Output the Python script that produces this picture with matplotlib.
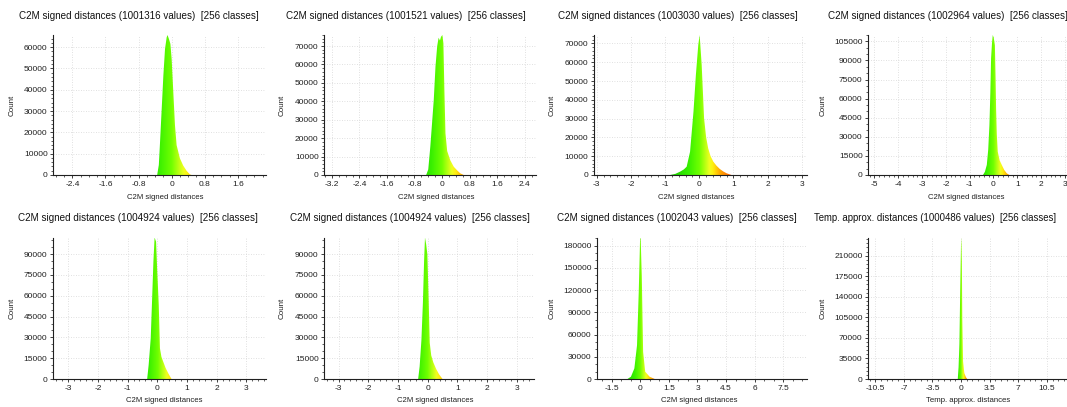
import numpy as np
import matplotlib.pyplot as plt
from matplotlib.colors import LinearSegmentedColormap, Normalize
from matplotlib.ticker import MultipleLocator, FuncFormatter
from matplotlib.patches import Polygon

plt.rcParams['font.family'] = ['Liberation Sans', 'DejaVu Sans']

W, H = 1067, 407

titles = [
    "C2M signed distances (1001316 values)  [256 classes]",
    "C2M signed distances (1001521 values)  [256 classes]",
    "C2M signed distances (1003030 values)  [256 classes]",
    "C2M signed distances (1002964 values)  [256 classes]",
    "C2M signed distances (1004924 values)  [256 classes]",
    "C2M signed distances (1004924 values)  [256 classes]",
    "C2M signed distances (1002043 values)  [256 classes]",
    "Temp. approx. distances (1000486 values)  [256 classes]",
]
xlabels = ["C2M signed distances"] * 7 + ["Temp. approx. distances"]

# histogram outlines (value, count)
x1 = [-0.35, -0.31, -0.28, -0.24, -0.20, -0.16, -0.12, -0.10, -0.065, -0.03, 0.0, 0.04, 0.08, 0.12, 0.20, 0.28, 0.36, 0.44, 0.48]
c1 = [0, 4700, 15600, 31100, 46700, 59200, 64600, 65700, 63800, 61500, 54500, 38900, 23400, 14000, 7800, 4400, 2000, 300, 0]

x2 = [-0.46, -0.40, -0.34, -0.29, -0.24, -0.19, -0.14, -0.10, -0.06, -0.03, 0.01, 0.04, 0.07, 0.10, 0.15, 0.24, 0.34, 0.44, 0.53, 0.63]
c2 = [0, 3000, 15400, 28000, 40700, 58800, 70000, 74500, 73000, 75000, 76000, 71500, 45000, 22600, 13000, 8000, 4500, 2500, 900, 0]

x3 = [-0.85, -0.70, -0.56, -0.45, -0.37, -0.27, -0.17, -0.10, -0.03, 0.01, 0.07, 0.14, 0.20, 0.26, 0.33, 0.41, 0.50, 0.60, 0.70, 0.80, 0.94]
c3 = [0, 600, 1800, 3000, 4400, 12400, 33700, 53200, 69200, 74500, 58500, 30100, 20000, 14200, 10000, 7100, 5000, 3200, 1900, 900, 0]

x4 = [-0.44, -0.36, -0.28, -0.22, -0.17, -0.13, -0.10, -0.06, -0.03, 0.01, 0.06, 0.09, 0.11, 0.14, 0.18, 0.26, 0.35, 0.45, 0.56, 0.67]
c4 = [0, 2500, 7900, 20000, 39300, 65000, 91700, 104000, 110000, 108000, 102000, 75000, 52400, 32000, 18300, 11500, 7900, 4000, 1300, 0]

x5 = [-0.34, -0.29, -0.22, -0.18, -0.13, -0.09, -0.04, 0.00, 0.05, 0.09, 0.14, 0.20, 0.28, 0.37, 0.48]
c5 = [0, 10100, 29300, 53300, 84500, 102000, 98900, 77300, 53300, 22100, 16000, 12500, 8000, 4100, 0]

x6 = [-0.32, -0.27, -0.21, -0.16, -0.12, -0.09, -0.05, -0.01, 0.03, 0.07, 0.12, 0.19, 0.28, 0.38, 0.50]
c6 = [0, 9000, 28000, 55000, 85000, 102000, 97000, 90000, 60000, 26000, 17000, 12000, 7500, 3500, 0]

x7 = [-0.68, -0.50, -0.32, -0.18, -0.09, -0.02, 0.01, 0.07, 0.14, 0.25, 0.48, 0.75]
c7 = [0, 3100, 14300, 45600, 117000, 188800, 191000, 139600, 36700, 9800, 3100, 0]

x8 = [-0.40, -0.30, -0.20, -0.10, 0.00, 0.04, 0.10, 0.16, 0.25, 0.40, 0.60, 0.75]
c8 = [0, 20000, 60000, 150000, 230000, 241000, 200000, 100000, 30000, 10000, 3000, 0]

xs = [x1, x2, x3, x4, x5, x6, x7, x8]
cs = [c1, c2, c3, c4, c5, c6, c7, c8]

xlims = [(-2.86, 2.28), (-3.42, 2.73), (-3.08, 3.15), (-5.26, 3.09),
         (-3.52, 3.66), (-3.48, 3.58), (-2.27, 8.76), (-11.35, 12.97)]
x_major = [0.8, 0.8, 1, 1, 1, 1, 1.5, 3.5]
x_minor = [0.2, 0.2, 0.2, 0.2, 0.2, 0.2, 0.5, 0.7]
y_major = [10000, 10000, 10000, 15000, 15000, 15000, 30000, 35000]
y_minor = [2000, 2000, 2000, 5000, 5000, 5000, 10000, 7000]

# axes boxes in pixels: left, right, top, bottom
boxes = [(53.3, 266, 35, 175), (324.3, 536, 35, 175), (594, 807, 35, 175), (868.3, 1067, 35, 175),
         (52.7, 266, 237.5, 379), (324.3, 534, 237.5, 379), (597.3, 807, 237.5, 379), (868.3, 1067, 237.5, 379)]
title_pos = [(138.5, 16), (406, 16), (678, 16), (948, 16), (138, 218), (410, 218), (677, 218), (814, 218)]
xlabel_pos = [(165.7, 197), (436, 197), (696.5, 197), (966.7, 197), (164, 400), (435, 400), (699, 400), (968, 400)]
ylabel_x = [12, 282, 552, 823, 12, 282, 552, 823]

cmap = LinearSegmentedColormap.from_list('cc', [
    (0.0, '#10c000'), (0.35, '#38f000'), (0.5, '#70ff00'), (0.575, '#b0ff10'),
    (0.65, '#f0ff20'), (0.7, '#ffee10'), (0.8, '#ffaa00'), (0.925, '#ff7000'), (1.0, '#ff4000')])
norm = Normalize(vmin=-1, vmax=1)


def fmt(v, pos):
    v = round(v, 6)
    if abs(v) < 1e-9:
        v = 0
    return f'{v:g}'


fig = plt.figure(figsize=(W / 100, H / 100), dpi=100)

for i in range(8):
    l, r, t, b = boxes[i]
    ax = fig.add_axes([l / W, 1 - b / H, (r - l) / W, (b - t) / H])
    x = np.array(xs[i], dtype=float)
    c = np.array(cs[i], dtype=float)
    xmin, xmax = xlims[i]
    ymax = c.max()

    poly = Polygon(np.column_stack([x, c]), closed=True, facecolor='none', edgecolor='none')
    ax.add_patch(poly)
    grad = np.linspace(xmin, xmax, 800).reshape(1, -1)
    im = ax.imshow(grad, extent=(xmin, xmax, 0, ymax), aspect='auto', cmap=cmap, norm=norm,
                   origin='lower', interpolation='bilinear', zorder=2)
    im.set_clip_path(poly)

    ax.set_xlim(xmin, xmax)
    ax.set_ylim(0, ymax)
    ax.xaxis.set_major_locator(MultipleLocator(x_major[i]))
    ax.xaxis.set_minor_locator(MultipleLocator(x_minor[i]))
    ax.yaxis.set_major_locator(MultipleLocator(y_major[i]))
    ax.yaxis.set_minor_locator(MultipleLocator(y_minor[i]))
    ax.xaxis.set_major_formatter(FuncFormatter(fmt))
    ax.yaxis.set_major_formatter(FuncFormatter(fmt))

    ax.grid(True, which='major', color='#d6d6d6', linestyle=(0, (1, 2)), linewidth=0.6)
    ax.set_axisbelow(True)
    for s in ['top', 'right']:
        ax.spines[s].set_visible(False)
    for s in ['left', 'bottom']:
        ax.spines[s].set_color('#202020')
        ax.spines[s].set_linewidth(0.8)
    ax.tick_params(which='major', direction='out', length=2.5, width=0.6, colors='#202020',
                   labelsize=6.0, pad=1.6)
    ax.tick_params(which='minor', direction='out', length=1.3, width=0.5, colors='#202020')

    tx, ty = title_pos[i]
    fig.text(tx / W, 1 - ty / H, titles[i], fontsize=7.1 if i < 7 else 6.9, color='#111111',
             ha='left' if i == 7 else 'center', va='center')
    lx, ly = xlabel_pos[i]
    fig.text(lx / W, 1 - ly / H, xlabels[i], fontsize=5.6, color='#202020', ha='center', va='center')
    fig.text(ylabel_x[i] / W, 1 - ((t + b) / 2) / H, 'Count', fontsize=5.8, color='#202020',
             rotation=90, ha='center', va='center')

fig.savefig('out.png', dpi=100)
